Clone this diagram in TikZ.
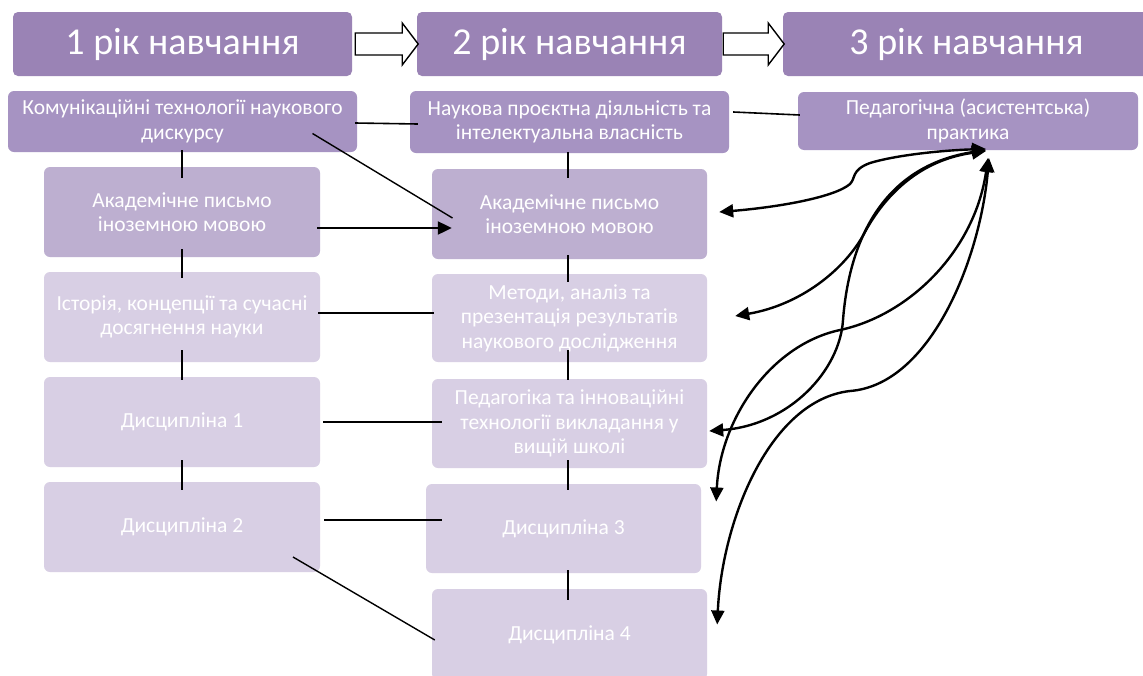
\documentclass[tikz,border=0pt]{standalone}
\usepackage{fontspec}
\setmainfont{Carlito}
\usetikzlibrary{arrows.meta,calc}
\definecolor{hdr}{HTML}{9A83B5}
\definecolor{lvtwo}{HTML}{A693C2}
\definecolor{lvmed}{HTML}{BDAFD0}
\definecolor{lvlight}{HTML}{D8CFE4}
\begin{document}
\begin{tikzpicture}[x=1pt,y=-1pt,
  box/.style={draw=none, rounded corners=6pt, text=white, align=center, inner sep=0pt,
    font=\fontsize{21.5}{24.5}\selectfont},
  hbox/.style={draw=none, rounded corners=5pt, fill=hdr, text=white, inner sep=0pt,
    minimum height=64pt, font=\fontsize{38}{40}\selectfont},
  colbox/.style={box, minimum width=276pt},
  ln/.style={draw=black, line width=1.6pt},
  fatarrow/.style={draw=black, fill=white, line width=1.4pt, line join=miter},
  curv/.style={draw=black, line width=2.4pt, {Triangle[length=14pt,width=13pt]}-{Triangle[length=14pt,width=13pt]}},
]
\clip (0,0) rectangle (1143,675);
\fill[white] (0,0) rectangle (1143,675);

% headers
\node[hbox, minimum width=339pt] (h1) at (182.5,44) {1 рік навчання};
\node[hbox, minimum width=305pt] (h2) at (569.5,44) {2 рік навчання};
\node[hbox, minimum width=367pt] (h3) at (966.5,44) {3 рік навчання};

% hollow arrows
\draw[fatarrow] ($(h1.east)+(3,-11)$) -- ++(47,0) -- ++(0,-10) -- ++(16,21) -- ++(-16,21) -- ++(0,-10) -- ++(-47,0) -- cycle;
\draw[fatarrow] ($(h2.east)+(1,-11)$) -- ++(45,0) -- ++(0,-10) -- ++(16,21) -- ++(-16,21) -- ++(0,-10) -- ++(-45,0) -- cycle;

% second row
\node[box, fill=lvtwo, minimum width=349pt, minimum height=61pt] (b1) at (182.5,121.5) {Комунікаційні технології наукового\\дискурсу};
\node[box, fill=lvtwo, minimum width=319pt, minimum height=62pt] (b2) at (569.5,122) {Наукова проєктна діяльність та\\інтелектуальна власність};
\node[box, fill=lvtwo, minimum width=340pt, minimum height=58pt] (b3) at (968,121) {Педагогічна (асистентська)\\практика};

% column 1
\node[colbox, fill=lvmed, minimum height=90pt] (c1a) at (182,212) {Академічне письмо\\іноземною мовою};
\node[colbox, fill=lvlight, minimum height=90pt] (c1b) at (182,317) {Історія, концепції та сучасні\\досягнення науки};
\node[colbox, fill=lvlight, minimum height=90pt] (c1c) at (182,422) {Дисципліна 1};
\node[colbox, fill=lvlight, minimum height=90pt] (c1d) at (182,527) {Дисципліна 2};

% column 2
\node[colbox, minimum width=275pt, fill=lvmed, minimum height=90pt] (c2a) at (569.5,214) {Академічне письмо\\іноземною мовою};
\node[colbox, minimum width=275pt, fill=lvlight, minimum height=88pt] (c2b) at (569.5,318) {Методи, аналіз та\\презентація результатів\\наукового дослідження};
\node[colbox, minimum width=275pt, fill=lvlight, minimum height=89pt] (c2c) at (569.5,423.5) {Педагогіка та інноваційні\\технології викладання у\\вищій школі};
\node[colbox, minimum width=275pt, fill=lvlight, minimum height=89pt] (c2d) at (563.5,528.5) {Дисципліна 3};
\node[colbox, minimum width=275pt, fill=lvlight, minimum height=91pt] (c2e) at (569.5,634.5) {Дисципліна 4};

% vertical links column 1
\draw[ln, shorten <=-2pt, shorten >=-11pt] (b1.south -| c1a.north) -- (c1a.north);
\draw[ln, shorten <=-8pt, shorten >=-6pt] (c1a.south) -- (c1b.north);
\draw[ln, shorten <=-12pt, shorten >=-3pt] (c1b.south) -- (c1c.north);
\draw[ln, shorten <=-7pt, shorten >=-8pt] (c1c.south) -- (c1d.north);

% vertical links column 2
\coordinate (c2cs) at ([xshift=-1.5pt]c2c.south);
\coordinate (c2en) at ([xshift=-1.5pt]c2e.north);
\draw[ln, shorten <=-1pt, shorten >=-9pt] ([xshift=-1.5pt]b2.south) -- ([xshift=-1.5pt]c2a.north);
\draw[ln, shorten <=-4pt, shorten >=-8pt] ([xshift=-1.5pt]c2a.south) -- ([xshift=-1.5pt]c2b.north);
\draw[ln, shorten <=-12pt, shorten >=-1pt] ([xshift=-1.5pt]c2b.south) -- ([xshift=-1.5pt]c2c.north);
\draw[ln, shorten <=-8pt, shorten >=-6pt] (c2cs) -- (c2d.north -| c2cs);
\draw[ln, shorten <=-3pt, shorten >=-11pt] (c2en |- c2d.south) -- (c2en);

% horizontal and diagonal links
\draw[ln] ($(b1.east)+(-2,1.5)$) -- ($(b2.west)+(8,2)$);
\draw[ln, line width=1.4pt] ($(b1.center)+(130,12)$) -- ($(c2a.center)+(-117,4)$);
\draw[ln, line width=2.2pt, -{Triangle[length=14pt,width=13pt]}] ($(c1a.east)+(-3,16)$) -- ($(c2a.west)+(20,14)$);
\draw[ln] ($(c1b.east)+(-2,-4)$) -- ($(c2b.west)+(2,-5)$);
\draw[ln] ($(c1c.east)+(3,0)$) -- ($(c2c.west)+(10,-1.5)$);
\draw[ln] ($(c1d.east)+(4,-7)$) -- ($(c2d.west)+(16,-8.5)$);
\draw[ln, line width=1.4pt] ($(c1d.center)+(111,30)$) -- ($(c2e.west)+(3,5.5)$);
\draw[ln] ($(b2.east)+(4,-10)$) -- ($(b3.west)+(2,-6)$);

% curved arrows from practice
\coordinate (qA) at ($(b3.center)+(18,28)$);
\coordinate (qB) at ($(b3.center)+(18,30)$);
\coordinate (qC) at ($(b3.center)+(18,29)$);
\coordinate (qD) at ($(b3.center)+(20,37)$);
\coordinate (qE) at ($(b3.center)+(21,37)$);
\coordinate (pA) at ($(c2a.east)+(12,-2)$);
\coordinate (pB) at ($(c2b.east)+(28,-2)$);
\coordinate (pC) at ($(c2c.east)+(2,7.5)$);
\coordinate (pD) at ($(c2d.east)+(15,-27)$);
\coordinate (pE) at ($(c2e.east)+(10,-10)$);

\draw[curv] (pA) .. controls (780,207) and (835,197) .. (850,184)
  .. controls (856,178) and (851,170) .. (870,163)
  .. controls (900,154) and (950,150) .. (qA);
\draw[curv] (pB) .. controls (800,305) and (845,270) .. (865,232)
  .. controls (885,195) and (920,160) .. (qB);
\draw[curv] (pC) .. controls (790,425) and (840,370) .. (843,320)
  .. controls (850,230) and (890,165) .. (qC);
\draw[curv] (pD) .. controls (720,420) and (770,345) .. (840,330)
  .. controls (910,315) and (975,250) .. (qD);
\draw[curv] (pE) .. controls (722,520) and (770,400) .. (850,391)
  .. controls (930,385) and (980,260) .. (qE);
\end{tikzpicture}
\end{document}
